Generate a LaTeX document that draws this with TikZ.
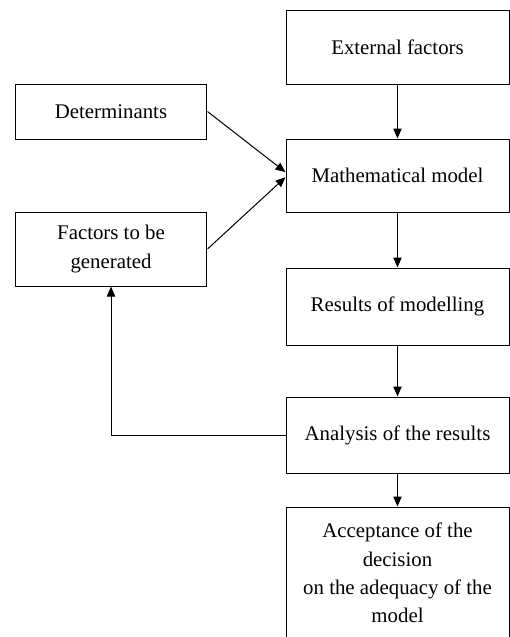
\documentclass[tikz,border=0pt]{standalone}
\usepackage{fontspec}
\setmainfont{Liberation Serif}
\usepackage{tikz}
\usetikzlibrary{positioning}
\usetikzlibrary{shapes.geometric, arrows.meta}

\tikzset{
    box/.style = {draw, rectangle, line width=0.6pt, align=center,
                  font=\fontsize{12.5}{17}\selectfont},
    bigbox/.style = {box, minimum width=133.8pt},
    smallbox/.style = {box, minimum width=115.2pt},
    link/.style = {line width=0.6pt, -{Triangle[length=6pt,width=5pt]}}
}

\begin{document}
\begin{tikzpicture}[x=0.6pt,y=-0.6pt]
    \useasboundingbox (0,0) rectangle (510,637);

    % right column
    \node[bigbox, minimum height=44.4pt] (ext) at (397.5,47) {External factors};
    \node[bigbox, minimum height=43.8pt] (math) at (397.5,175.5) {Mathematical model};
    \node[bigbox, minimum height=46.2pt] (res) at (397.5,306.5) {Results of modelling};
    \node[bigbox, minimum height=45.6pt] (ana) at (397.5,435) {Analysis of the results};
    \node[bigbox, minimum height=79.2pt] (acc) at (397.5,573) {Acceptance of the\\ decision\\ on the adequacy of the\\ model};

    % left column
    \node[smallbox, minimum height=33pt] (det) at (111,111.5) {Determinants};
    \node[smallbox, minimum height=44.4pt] (fac) at (111,249) {Factors to be\\ generated};

    \draw[link] (ext) -- (math);
    \draw[link] (math) -- (res);
    \draw[link] (res) -- (ana);
    \draw[link] (ana) -- (acc);
    \draw[link] (det.east) -- ([yshift=2pt]math.west);
    \draw[link] (fac.east) -- ([yshift=-1pt]math.west);
    \draw[link] (ana.west) -| (fac.south);
\end{tikzpicture}
\end{document}
